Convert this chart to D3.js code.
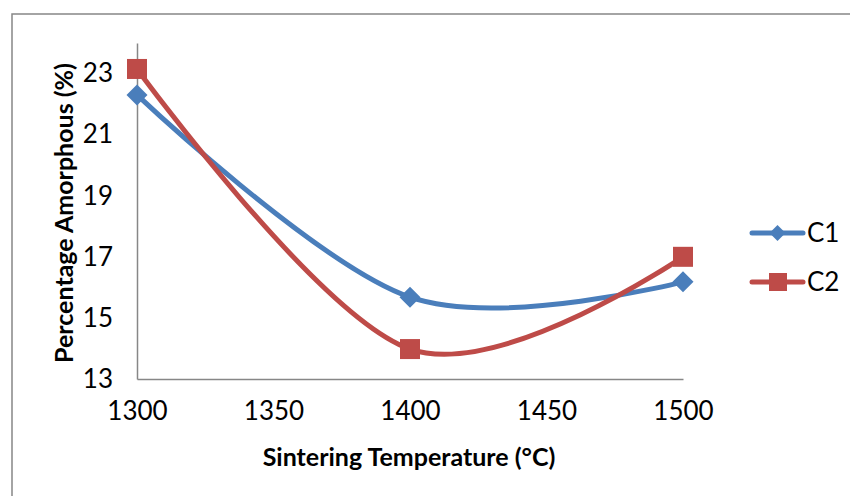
<!DOCTYPE html>
<html><head><meta charset="utf-8">
<script src="https://cdn.jsdelivr.net/npm/d3@7"></script>
<style>body{margin:0;background:#fff}svg{display:block}text{font-family:Lato,"Open Sans",sans-serif}</style>
</head><body>
<svg id="c" width="850" height="496"></svg>
<script>
const temperatures = [1300, 1400, 1500];
const c1Values = [22.3, 15.68, 16.18];
const c2Values = [23.15, 13.98, 17.0];
const seriesNames = ["C1", "C2"];
const seriesColors = ["#4A7EBB", "#BE4B48"];
const xTicks = [1300, 1350, 1400, 1450, 1500];
const yTicks = [13, 15, 17, 19, 21, 23];

const svg = d3.select("#c");
// outer chart frame
svg.append("rect").attr("x",12).attr("y",14).attr("width",900).attr("height",600)
  .attr("fill","none").attr("stroke","#878787").attr("stroke-width",1.5);

const x = d3.scaleLinear().domain([1300,1500]).range([137,683]);
const y = d3.scaleLinear().domain([13,24]).range([379,43]);

const axisColor = "#878787";
const gx = svg.append("g").attr("transform","translate(0,379)")
  .call(d3.axisBottom(x).tickValues(xTicks).tickSize(0).tickPadding(23).tickFormat(d3.format("d")));
const gy = svg.append("g").attr("transform","translate(137,0)")
  .call(d3.axisLeft(y).tickValues(yTicks).tickSize(0).tickPadding(24).tickFormat(d3.format("d")));
[gx,gy].forEach(g=>{
  g.select(".domain").attr("stroke",axisColor).attr("stroke-width",1.5);
  g.selectAll("text").attr("font-size",26).attr("fill","#000").attr("font-family","Lato");
});
gx.selectAll("text").attr("dy","0.71em");

svg.append("text").attr("x",409).attr("y",466).attr("text-anchor","middle")
  .attr("font-size",25).attr("font-weight","bold").text("Sintering Temperature (°C)");
svg.append("text").attr("transform","translate(73,213) rotate(-90)").attr("text-anchor","middle")
  .attr("font-size",25).attr("font-weight","bold").text("Percentage Amorphous (%)");

const series = [c1Values, c2Values];
const line = d3.line().x((d,i)=>x(temperatures[i])).y(d=>y(d)).curve(d3.curveCatmullRom.alpha(0));
series.forEach((vals,si)=>{
  svg.append("path").attr("d",line(vals)).attr("fill","none")
    .attr("stroke",seriesColors[si]).attr("stroke-width",5).attr("stroke-linejoin","round");
});
const diamond = (cx,cy,r)=>`M${cx},${cy-r}L${cx+r},${cy}L${cx},${cy+r}L${cx-r},${cy}Z`;
c1Values.forEach((v,i)=>{
  svg.append("path").attr("d",diamond(x(temperatures[i]),y(v),10.5)).attr("fill",seriesColors[0]);
});
c2Values.forEach((v,i)=>{
  svg.append("rect").attr("x",x(temperatures[i])-10).attr("y",y(v)-10).attr("width",20).attr("height",20)
    .attr("fill",seriesColors[1]);
});

// legend
const legY = [233, 282];
seriesNames.forEach((n,i)=>{
  svg.append("line").attr("x1",752).attr("x2",803).attr("y1",legY[i]).attr("y2",legY[i])
    .attr("stroke",seriesColors[i]).attr("stroke-width",5).attr("stroke-linecap","round");
  if(i===0) svg.append("path").attr("d",diamond(777.5,legY[i],8)).attr("fill",seriesColors[0]);
  else svg.append("rect").attr("x",769).attr("y",legY[i]-9).attr("width",18).attr("height",18).attr("fill",seriesColors[1]);
  svg.append("text").attr("x",807).attr("y",legY[i]).attr("dy","0.36em").attr("font-size",26).text(n);
});
</script>
</body></html>
